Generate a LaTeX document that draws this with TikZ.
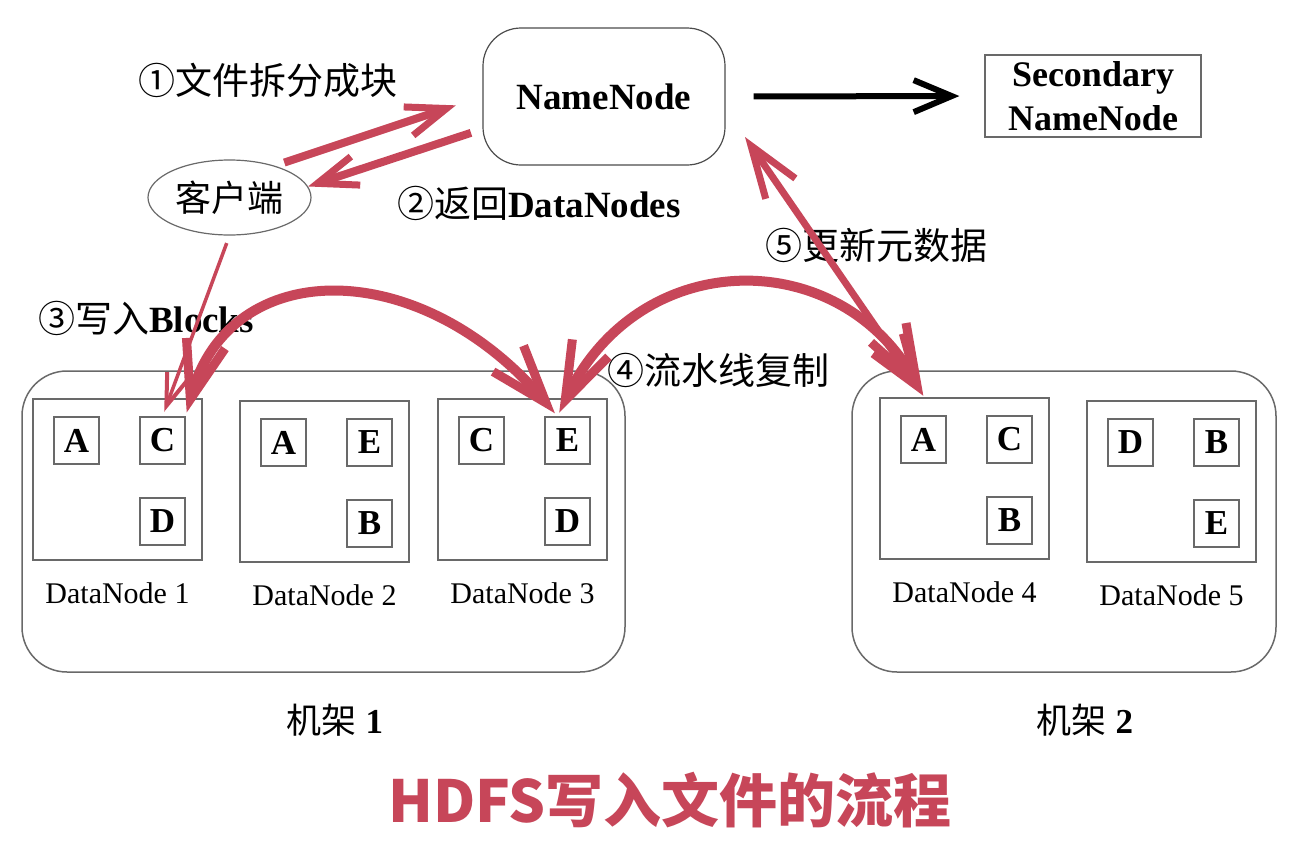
\documentclass[tikz,border=0pt]{standalone}
\usepackage{fontspec}
\setmainfont{Liberation Serif}
\newfontfamily\cjk{Noto Sans CJK SC}
\usetikzlibrary{arrows.meta,shapes.geometric}
\definecolor{rc}{RGB}{199,70,89}
\definecolor{bx}{RGB}{105,105,105}
\newcommand{\dnodebox}[7]{%
  \node[dnbox] (#1) at (#2+84.5,#3+80.5) {};
  \node[blk] (#1tl) at (#2+43.5,#3+41.5) {#4};
  \node[blk] (#1tr) at (#2+129.5,#3+41.5) {#5};
  \node[blk] (#1br) at (#2+129.5,#3+122.5) {#6};
  \node[dnlab] (#1lab) at (#2+84.5,#3+194) {DataNode #7};
}
\begin{document}
\begin{tikzpicture}[x=1pt,y=-1pt,
  blk/.style={draw=bx,line width=1.3pt,minimum width=45pt,minimum height=47pt,inner sep=0pt,font=\fontsize{35}{35}\selectfont\bfseries},
  dnbox/.style={draw=bx,line width=1.5pt,minimum width=169pt,minimum height=161pt,inner sep=0pt},
  dnlab/.style={font=\fontsize{30}{30}\selectfont},
  rack/.style={draw=bx,line width=1.5pt,rounded corners=45pt,inner sep=0pt},
  cjklab/.style={font=\cjk\fontsize{37}{37}\selectfont,inner sep=0pt},
  mixlab/.style={font=\fontsize{37}{37}\selectfont,inner sep=0pt},
  racklab/.style={font=\fontsize{35}{35}\selectfont,inner sep=0pt},
  rarr/.style={draw=rc,line width=8pt,-{Straight Barb[length=40pt,width=30pt,line width=7pt]}},
  rarc/.style={draw=rc,line width=10pt,{Straight Barb[length=58pt,width=40pt,line width=9pt]}-{Straight Barb[length=58pt,width=40pt,line width=9pt]}},
  rboth/.style={draw=rc,line width=7pt,{Straight Barb[length=52pt,width=36pt,line width=7pt]}-{Straight Barb[length=52pt,width=36pt,line width=7pt]}},
  rthin/.style={draw=rc,line width=3.5pt,-{Straight Barb[length=32pt,width=22pt,line width=4pt]}},
  barr/.style={draw=black,line width=6pt,-{Straight Barb[length=38pt,width=32pt,line width=6pt]}}
]
\fill[white] (0,0) rectangle (1299,854);
\useasboundingbox (0,0) rectangle (1299,854);

% racks
\node[rack,minimum width=603pt,minimum height=301pt] (rack1) at (323.5,521.5) {};
\node[rack,minimum width=424pt,minimum height=301pt] (rack2) at (1064,521.5) {};

% data nodes
\dnodebox{dnA}{33}{399}{A}{C}{D}{1}
\dnodebox{dnB}{240}{401}{A}{E}{B}{2}
\dnodebox{dnC}{438}{399}{C}{E}{D}{3}
\dnodebox{dnD}{880}{398}{A}{C}{B}{4}
\dnodebox{dnE}{1087}{401}{D}{B}{E}{5}

% top nodes
\node[draw=black!70,line width=1.2pt,rounded corners=38pt,minimum width=242pt,minimum height=137pt,inner sep=0pt,font=\fontsize{37}{37}\selectfont\bfseries] (nn) at (604,96.5) {NameNode};
\node[draw=bx,line width=1.2pt,minimum width=216pt,minimum height=82pt,inner sep=0pt,align=center,font=\fontsize{36}{44}\selectfont\bfseries] (snn) at (1093,96) {Secondary\\NameNode};
\node[draw=bx,line width=1.2pt,ellipse,minimum width=163pt,minimum height=75pt,inner sep=0pt,font=\cjk\fontsize{36}{36}\selectfont] (client) at (229.5,197.5) {客户端};

% labels
\node[cjklab] (t1) at (268,80) {①文件拆分成块};
\node[mixlab] (t2) at (539,203) {{\cjk ②返回}\textbf{DataNodes}};
\node[mixlab] (t3) at (146,318) {{\cjk ③写入}\textbf{Blocks}};
\node[cjklab] (t4) at (718,370) {④流水线复制};
\node[cjklab] (t5) at (876,245) {⑤更新元数据};
\node[racklab] (r1) at (335,720) {{\cjk 机架} \textbf{1}};
\node[racklab] (r2) at (1085,720) {{\cjk 机架} \textbf{2}};
\node[font=\cjk\bfseries\fontsize{58}{58}\selectfont,text=rc,inner sep=0pt] (title) at (670,800) {HDFS写入文件的流程};

% connectors
\coordinate (n5) at (745,137);
\draw[rarr,shorten <=10pt,shorten >=28pt] (client.35) -- (nn.west);
\draw[rarr,shorten <=12pt] (nn.195) -- (client.8);
\draw[rthin,shorten <=8pt,shorten >=5pt] (client.south) -- (dnAtr.north);
\draw[rarc,shorten <=4pt,shorten >=4pt] (dnAtr.north east) .. controls (230,255) and (420,255) .. ([xshift=-10pt]dnCtr.north);
\draw[rarc,shorten <=4pt,shorten >=2pt] ([xshift=-10pt]dnCtr.north) .. controls (640,245) and (840,245) .. ([xshift=45pt]dnD.north west);
\draw[rboth,shorten >=2pt] (n5) -- ([xshift=45pt]dnD.north west);
\draw[barr,shorten <=28pt,shorten >=25pt] (nn.east) -- (snn.west);
\end{tikzpicture}
\end{document}
